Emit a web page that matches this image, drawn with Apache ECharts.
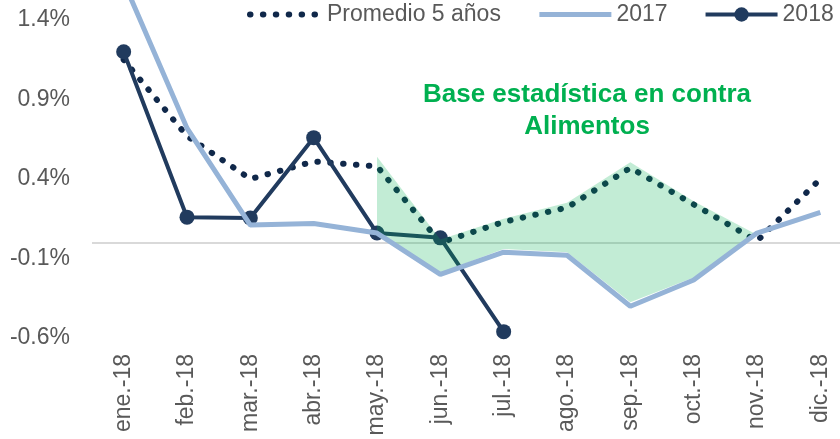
<!DOCTYPE html>
<html>
<head>
<meta charset="utf-8">
<script src="https://cdn.jsdelivr.net/npm/echarts@6/dist/echarts.min.js"></script>
<style>
  html, body { margin: 0; padding: 0; background: #fff; }
  #chart { width: 840px; height: 439px; }
</style>
</head>
<body>
<div id="chart"></div>
<script>
// meses (eje X)
const months = ['ene.-18', 'feb.-18', 'mar.-18', 'abr.-18', 'may.-18', 'jun.-18',
  'jul.-18', 'ago.-18', 'sep.-18', 'oct.-18', 'nov.-18', 'dic.-18'];

// variación mensual, en %
const avg5y = [1.15, 0.67, 0.40, 0.51, 0.48, 0.00, 0.13, 0.22, 0.47, 0.24, 0.01, 0.40];
const y2017 = [1.64, 0.72, 0.11, 0.12, 0.06, -0.20, -0.06, -0.08, -0.40, -0.235, 0.06, 0.19];
const y2018 = [1.20, 0.16, 0.155, 0.66, 0.06, 0.03, -0.56, null, null, null, null, null];

// zona sombreada "base estadística en contra" (may-nov)
const shadeUpper = [null, null, null, null, 0.54, 0.02, 0.15, 0.25, 0.505, 0.26, 0.05, null];
const shadeLower = [null, null, null, null, 0.06, -0.19, -0.04, -0.06, -0.375, -0.22, 0.05, null];

const yTicks = { min: -0.6, max: 1.4, step: 0.5 };

const FONT = '"Liberation Sans", Arial, sans-serif';
const C_AVG = '#10284A', C_17 = '#95B3D7', C_18 = '#213B5E';
const shadeDiff = shadeUpper.map((v, i) => (v == null ? null : +(v - shadeLower[i]).toFixed(3)));

const chart = echarts.init(document.getElementById('chart'));
chart.setOption({
  animation: false,
  textStyle: { fontFamily: FONT },
  grid: { left: 92, width: 760, top: 20, bottom: 101, containLabel: false, outerBoundsMode: 'none' },
  legend: {
    data: [
      { name: 'Promedio 5 años', itemStyle: { opacity: 0 }, lineStyle: { width: 6, type: [0.5, 12.4], cap: 'round', color: C_AVG } },
      { name: '2017', itemStyle: { opacity: 0 }, lineStyle: { width: 5, color: C_17 } },
      { name: '2018', lineStyle: { width: 4, color: C_18 } }
    ],
    left: 247, top: 3, padding: 0,
    itemWidth: 72, itemHeight: 18, itemGap: 36,
    textStyle: { fontSize: 23, color: '#595959', fontFamily: FONT }
  },
  xAxis: {
    type: 'category',
    data: months,
    boundaryGap: true,
    axisLine: { show: false, onZero: false },
    axisTick: { show: false },
    axisLabel: { rotate: 90, margin: 16, fontSize: 23, color: '#595959', interval: 0 }
  },
  yAxis: {
    type: 'value',
    min: yTicks.min, max: yTicks.max, interval: yTicks.step,
    axisLine: { show: false },
    axisTick: { show: false },
    splitLine: { show: false },
    axisLabel: {
      fontSize: 23, color: '#595959', margin: 22, padding: [6, 0, 0, 0],
      formatter: v => v.toFixed(1) + '%'
    }
  },
  graphic: [{
    type: 'text',
    x: 587, y: 111,
    silent: true,
    style: {
      text: 'Base estadística en contra\nAlimentos',
      fill: '#00B050',
      font: 'bold 26px ' + FONT,
      align: 'center', verticalAlign: 'middle',
      lineHeight: 32
    }
  }],
  series: [
    {
      name: 'Promedio 5 años',
      type: 'line',
      data: avg5y,
      z: 2,
      symbol: 'none',
      lineStyle: { color: C_AVG, width: 6, type: [0.5, 12.4], cap: 'round' },
      itemStyle: { color: C_AVG },
      markLine: {
        z: 1, silent: true, symbol: 'none',
        label: { show: false },
        lineStyle: { color: '#D9D9D9', width: 2, type: 'solid' },
        data: [{ yAxis: 0 }]
      }
    },
    {
      name: '2018',
      type: 'line',
      data: y2018,
      z: 2,
      symbol: 'circle',
      symbolSize: 15,
      lineStyle: { color: C_18, width: 4 },
      itemStyle: { color: C_18 }
    },
    {
      name: 'shadeBase',
      type: 'line',
      data: shadeLower,
      stack: 'shade',
      stackStrategy: 'all',
      z: 3,
      symbol: 'none',
      silent: true,
      lineStyle: { opacity: 0 }
    },
    {
      name: 'shade',
      type: 'line',
      data: shadeDiff,
      stack: 'shade',
      stackStrategy: 'all',
      z: 3,
      symbol: 'none',
      silent: true,
      lineStyle: { opacity: 0 },
      areaStyle: { color: 'rgba(0,176,80,0.24)', opacity: 1 }
    },
    {
      name: '2017',
      type: 'line',
      data: y2017,
      z: 4,
      clip: false,
      symbol: 'none',
      lineStyle: { color: C_17, width: 5 },
      itemStyle: { color: C_17 }
    }
  ]
});
</script>
</body>
</html>
